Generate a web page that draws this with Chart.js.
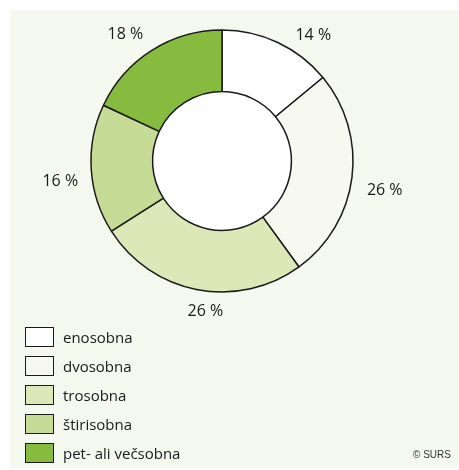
<!DOCTYPE html>
<html lang="sl">
<head>
  <meta charset="UTF-8" />
  <title>Stanovanja po številu sob</title>
  <script src="https://cdn.jsdelivr.net/npm/chart.js"></script>
  <style>
    * { margin: 0; padding: 0; box-sizing: border-box; }
    body { width: 459px; height: 470px; background: #fff; position: relative; overflow: hidden;
      font-family: 'Open Sans', sans-serif; color: #1a1a1a; }
    .panel { position: absolute; left: 10px; top: 10px; width: 448px; height: 458px; background: #f5f8ef; }
    #chart { position: absolute; left: 0; top: 0; }
    .legend { position: absolute; left: 25px; top: 327px; }
    .legend-item { display: flex; align-items: center; height: 20px; margin-bottom: 9px; }
    .legend-box { width: 29px; height: 20px; border: 1.5px solid #1a1a1a; margin-right: 9px; }
    .legend-text { font-size: 15px; line-height: 20px; }
    .source { position: absolute; left: 413px; top: 449px; font-family: 'Liberation Sans', Arial, sans-serif;
      font-size: 10px; color: #333; }
  </style>
</head>
<body>
<div class="panel"></div>
<canvas id="chart" width="459" height="470"></canvas>
<div class="legend" id="legend"></div>
<div class="source">© SURS</div>
<script>
const categories = ["enosobna", "dvosobna", "trosobna", "štirisobna", "pet- ali večsobna"];
const shares = [14, 26, 26, 16, 18];
const colors = ["#ffffff", "#f7f9f1", "#dce8b7", "#c6db95", "#86bb40"];
// small nudges for the percent labels around the ring
const labelShift = [[24, 17], [6, 10], [13, -5], [-4, 11], [-12, 7]];

// html legend from the same arrays
const legendEl = document.getElementById("legend");
categories.forEach((c, i) => {
  const row = document.createElement("div");
  row.className = "legend-item";
  row.innerHTML = `<div class="legend-box" style="background:${colors[i]}"></div><div class="legend-text">${c}</div>`;
  legendEl.appendChild(row);
});

// white hole in the middle of the ring
const whiteHole = {
  id: "whiteHole",
  beforeDatasetsDraw(chart) {
    const arc = chart.getDatasetMeta(0).data[0];
    if (!arc) return;
    const ctx = chart.ctx;
    ctx.save();
    ctx.fillStyle = "#ffffff";
    ctx.beginPath();
    ctx.arc(arc.x, arc.y, arc.innerRadius, 0, Math.PI * 2);
    ctx.fill();
    ctx.restore();
  }
};

const percentLabels = {
  id: "percentLabels",
  afterDatasetsDraw(chart) {
    const ctx = chart.ctx;
    const arcs = chart.getDatasetMeta(0).data;
    ctx.save();
    ctx.font = "16px 'Open Sans'";
    ctx.fillStyle = "#1a1a1a";
    ctx.textAlign = "center";
    ctx.textBaseline = "middle";
    arcs.forEach((arc, i) => {
      const mid = (arc.startAngle + arc.endAngle) / 2;
      const r = arc.outerRadius + 27;
      const x = arc.x + Math.cos(mid) * r + labelShift[i][0];
      const y = arc.y + Math.sin(mid) * r + labelShift[i][1];
      ctx.fillText(shares[i] + " %", x, y);
    });
    ctx.restore();
  }
};

new Chart(document.getElementById("chart"), {
  type: "doughnut",
  data: {
    labels: categories,
    datasets: [{
      data: shares,
      backgroundColor: colors,
      borderColor: "#1a1a1a",
      borderWidth: 1.5,
      hoverOffset: 0
    }]
  },
  options: {
    responsive: false,
    animation: false,
    radius: 131,
    cutout: "53%",
    layout: { padding: { left: 72, right: 87, top: 11, bottom: 159 } },
    plugins: { legend: { display: false }, tooltip: { enabled: false } }
  },
  plugins: [whiteHole, percentLabels]
});
</script>
</body>
</html>
